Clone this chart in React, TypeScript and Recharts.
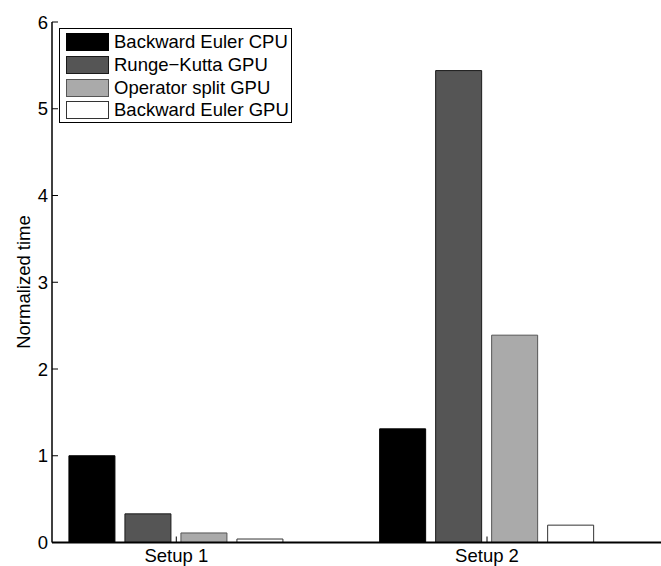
import React from 'react';
import { BarChart, Bar, XAxis, YAxis, Legend } from 'recharts';

const categories = ['Setup 1', 'Setup 2'];
const categoryPositions = [1, 2];
const seriesNames = ['Backward Euler CPU', 'Runge\u2212Kutta GPU', 'Operator split GPU', 'Backward Euler GPU'];
const beCpu = [1.0, 1.31];
const rkGpu = [0.33, 5.44];
const osGpu = [0.11, 2.39];
const beGpu = [0.04, 0.2];
const yTicks = [0, 1, 2, 3, 4, 5, 6];
const seriesValues = [beCpu, rkGpu, osGpu, beGpu];
const fills = ['#000000', '#555555', '#aaaaaa', '#ffffff'];
const strokes = ['#000000', '#1a1a1a', '#555555', '#333333'];
const keys = ['s0', 's1', 's2', 's3'];

const data = categoryPositions.map((x, i) => {
  const row: any = { x };
  keys.forEach((k, j) => {
    row[k] = seriesValues[j][i];
  });
  return row;
});

const FONT = '"Liberation Sans", Arial, Helvetica, sans-serif';
const FS = 18.5;

function BottomTick(props: any) {
  const { x, y, payload } = props;
  const idx = categoryPositions.indexOf(payload.value);
  return (
    <g>
      <line x1={x} x2={x} y1={y} y2={y - 6} stroke="#000" strokeWidth={1} />
      <text x={x} y={y + 19} textAnchor="middle" fontSize={FS} fontFamily={FONT} fill="#000">
        {idx >= 0 ? categories[idx] : ''}
      </text>
    </g>
  );
}

function TopTick(props: any) {
  const { x, y } = props;
  return <line x1={x} x2={x} y1={y} y2={y + 6} stroke="#000" strokeWidth={1} />;
}

function LeftTick(props: any) {
  const { x, y, payload } = props;
  return (
    <g>
      <line x1={x} x2={x + 6} y1={y} y2={y} stroke="#000" strokeWidth={1} />
      <text x={x - 4} y={y} dy={6.5} textAnchor="end" fontSize={FS} fontFamily={FONT} fill="#000">
        {payload.value}
      </text>
    </g>
  );
}

function LegendBox() {
  return (
    <div
      style={{
        boxSizing: 'border-box',
        width: 233,
        height: 95,
        border: '1.5px solid #000',
        background: '#fff',
        paddingTop: 2.5,
        paddingLeft: 6.5,
        fontFamily: FONT,
        fontSize: FS,
        color: '#000',
      }}
    >
      {seriesNames.map((name, i) => (
        <div key={name} style={{ display: 'flex', alignItems: 'center', height: 22.7 }}>
          <div
            style={{
              boxSizing: 'border-box',
              width: 43,
              height: 18,
              background: fills[i],
              border: `1px solid ${strokes[i]}`,
              marginRight: 5,
            }}
          />
          <span style={{ lineHeight: '18px', whiteSpace: 'nowrap' }}>{name}</span>
        </div>
      ))}
    </div>
  );
}

export default function App() {
  return (
    <div
      style={{
        position: 'absolute',
        left: 0,
        top: 0,
        width: 661,
        height: 566,
        overflow: 'hidden',
        background: '#fff',
      }}
    >
      <BarChart
        width={661}
        height={566}
        data={data}
        margin={{ top: 22, right: 0, bottom: 0, left: 0 }}
        barSize={46}
        barGap={10}
      >
        <XAxis
          dataKey="x"
          type="number"
          domain={[0.6, 2.56]}
          allowDataOverflow
          ticks={categoryPositions}
          height={23.5}
          tickSize={0}
          tickMargin={0}
          tickLine={false}
          axisLine={{ stroke: '#000', strokeWidth: 2 }}
          tick={<BottomTick />}
        />
        <XAxis
          xAxisId="top"
          dataKey="x"
          type="number"
          orientation="top"
          domain={[0.6, 2.56]}
          allowDataOverflow
          ticks={categoryPositions}
          height={0}
          tickSize={0}
          tickMargin={0}
          tickLine={false}
          axisLine={{ stroke: '#000', strokeWidth: 1.5 }}
          tick={<TopTick />}
        />
        <YAxis
          domain={[0, 6]}
          ticks={yTicks}
          width={52}
          tickSize={0}
          tickMargin={0}
          tickLine={false}
          axisLine={{ stroke: '#000', strokeWidth: 1.5 }}
          tick={<LeftTick />}
          label={{
            content: () => (
              <text
                x={29.5}
                y={282}
                transform="rotate(-90, 29.5, 282)"
                textAnchor="middle"
                fontSize={FS}
                fontFamily={FONT}
                fill="#000"
              >
                Normalized time
              </text>
            ),
          }}
        />
        <Legend
          layout="vertical"
          align="center"
          verticalAlign="middle"
          wrapperStyle={{ left: 58.5, top: 27.5, width: 233, height: 95 }}
          content={() => <LegendBox />}
        />
        {keys.map((k, i) => (
          <Bar
            key={k}
            dataKey={k}
            name={seriesNames[i]}
            fill={fills[i]}
            stroke={strokes[i]}
            strokeWidth={1}
            isAnimationActive={false}
          />
        ))}
      </BarChart>
    </div>
  );
}
